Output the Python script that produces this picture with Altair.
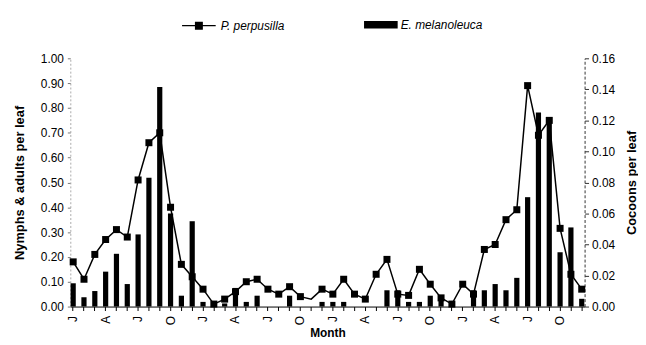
import altair as alt
import pandas as pd

month_letters = ["J", "F", "M", "A", "M", "J", "J", "A", "S", "O", "N", "D"] * 4

nymphs = [0.18, 0.11, 0.21, 0.27, 0.31, 0.28, 0.51, 0.66, 0.70, 0.40, 0.17, 0.12,
          0.07, 0.01, 0.03, 0.06, 0.10, 0.11, 0.07, 0.05, 0.08, 0.04, 0.03, 0.07,
          0.05, 0.11, 0.05, 0.03, 0.13, 0.19, 0.05, 0.045, 0.15, 0.09, 0.035, 0.01,
          0.09, 0.05, 0.23, 0.25, 0.35, 0.39, 0.89, 0.69, 0.75, 0.315, 0.13, 0.07]

cocoons = [0.015, 0.006, 0.010, 0.0225, 0.034, 0.0145, 0.0465, 0.083, 0.1415, 0.060, 0.007, 0.055,
           0.003, 0.002, 0.002, 0.012, 0.003, 0.007, 0.0, 0.0, 0.007, 0.0, 0.0, 0.003,
           0.003, 0.003, 0.0, 0.0, 0.0, 0.0105, 0.0105, 0.003, 0.003, 0.007, 0.005, 0.003,
           0.0, 0.0105, 0.0105, 0.0145, 0.0105, 0.0185, 0.0705, 0.125, 0.122, 0.035, 0.051, 0.005]

no_marker = [22]

series_line = "P. perpusilla"
series_bar = "E. melanoleuca"

left_ticks = [0.0, 0.1, 0.2, 0.3, 0.4, 0.5, 0.6, 0.7, 0.8, 0.9, 1.0]
right_ticks = [0.0, 0.02, 0.04, 0.06, 0.08, 0.10, 0.12, 0.14, 0.16]

df = pd.DataFrame({
    "idx": list(range(len(nymphs))),
    "nymphs": nymphs,
    "cocoons": cocoons,
    "s1": series_line,
    "s2": series_bar,
})

FONT = "Liberation Sans"
letters_js = "[" + ",".join("'" + m + "'" for m in month_letters) + "]"
label_expr = "datum.value % 3 == 0 ? " + letters_js + "[datum.value] : ''"

x_enc = alt.X(
    "idx:O",
    scale=alt.Scale(paddingInner=0.52, paddingOuter=0.025),
    axis=alt.Axis(
        title="Month",
        labelAngle=270,
        labelExpr=label_expr,
        labelFontSize=12,
        labelFont=FONT,
        labelColor="black",
        labelPadding=5,
        tickSize=4,
        tickColor="black",
        domainColor="black",
        titleFont=FONT,
        titleFontSize=12,
        titleFontWeight="bold",
        titlePadding=3,
        titleColor="black",
    ),
)

line_legend_path = "M-1,0L1,0M-0.2,-0.2L0.2,-0.2L0.2,0.2L-0.2,0.2Z"
bar_legend_path = "M-1,-0.22L1,-0.22L1,0.22L-1,0.22Z"

bars = alt.Chart(df).mark_bar(color="black").encode(
    x=x_enc,
    y=alt.Y(
        "cocoons:Q",
        scale=alt.Scale(domain=[0, 0.16], nice=False),
        axis=alt.Axis(
            orient="right",
            title="Cocoons per leaf",
            titleAngle=270,
            titleBaseline="top",
            values=right_ticks,
            format=".2f",
            grid=False,
            labelFontSize=12,
            labelFont=FONT,
            labelColor="black",
            labelPadding=3,
            tickSize=4,
            tickColor="#333",
            domainColor="#333",
            domainDash=[3, 2],
            titleFont=FONT,
            titleFontSize=13,
            titleFontWeight="bold",
            titleColor="black",
            titlePadding=11,
        ),
    ),
    fill=alt.Fill(
        "s2:N",
        scale=alt.Scale(range=["black"]),
        legend=alt.Legend(
            orient="none", legendX=297, legendY=-51, title=None,
            symbolType=bar_legend_path, symbolSize=1156,
            symbolFillColor="black", symbolStrokeColor="black", symbolStrokeWidth=0,
            labelFont=FONT, labelFontSize=12, labelFontStyle="italic",
            labelColor="black", labelOffset=3, padding=0,
        ),
    ),
)

left_axis = alt.Axis(
    orient="left",
    title="Nymphs & adults per leaf",
    values=left_ticks,
    format=".2f",
    grid=False,
    labelFontSize=12,
    labelFont=FONT,
    labelColor="black",
    labelPadding=4,
    tickSize=3,
    tickColor="#777",
    domainColor="#aaa",
    domainDash=[2, 2],
    titleFont=FONT,
    titleFontSize=13,
    titleFontWeight="bold",
    titleColor="black",
    titlePadding=14,
)

line = alt.Chart(df).mark_line(color="black", strokeWidth=1.5).encode(
    x=x_enc,
    y=alt.Y("nymphs:Q", scale=alt.Scale(domain=[0, 1], nice=False), axis=left_axis),
)

points = alt.Chart(df).transform_filter(
    ~alt.FieldOneOfPredicate(field="idx", oneOf=no_marker)
).mark_point(shape="square", filled=True, size=50, opacity=1).encode(
    x=x_enc,
    y=alt.Y("nymphs:Q", scale=alt.Scale(domain=[0, 1], nice=False), axis=left_axis),
    color=alt.Color(
        "s1:N",
        scale=alt.Scale(range=["black"]),
        legend=alt.Legend(
            orient="none", legendX=112, legendY=-51, title=None,
            symbolType=line_legend_path, symbolSize=1156,
            symbolFillColor="black", symbolStrokeColor="black", symbolStrokeWidth=1.2,
            symbolOpacity=1,
            labelFont=FONT, labelFontSize=12, labelFontStyle="italic",
            labelColor="black", labelOffset=4, padding=0,
        ),
    ),
)

chart = alt.layer(bars, alt.layer(line, points)).resolve_scale(
    y="independent", color="independent", fill="independent"
).properties(
    width=520,
    height=251,
    autosize=alt.AutoSizeParams(type="none"),
    padding={"left": 63, "top": 49, "right": 54, "bottom": 37},
).configure(font=FONT).configure_view(stroke=None)

chart.save("out.html", embed_options={"renderer": "svg", "actions": False})
